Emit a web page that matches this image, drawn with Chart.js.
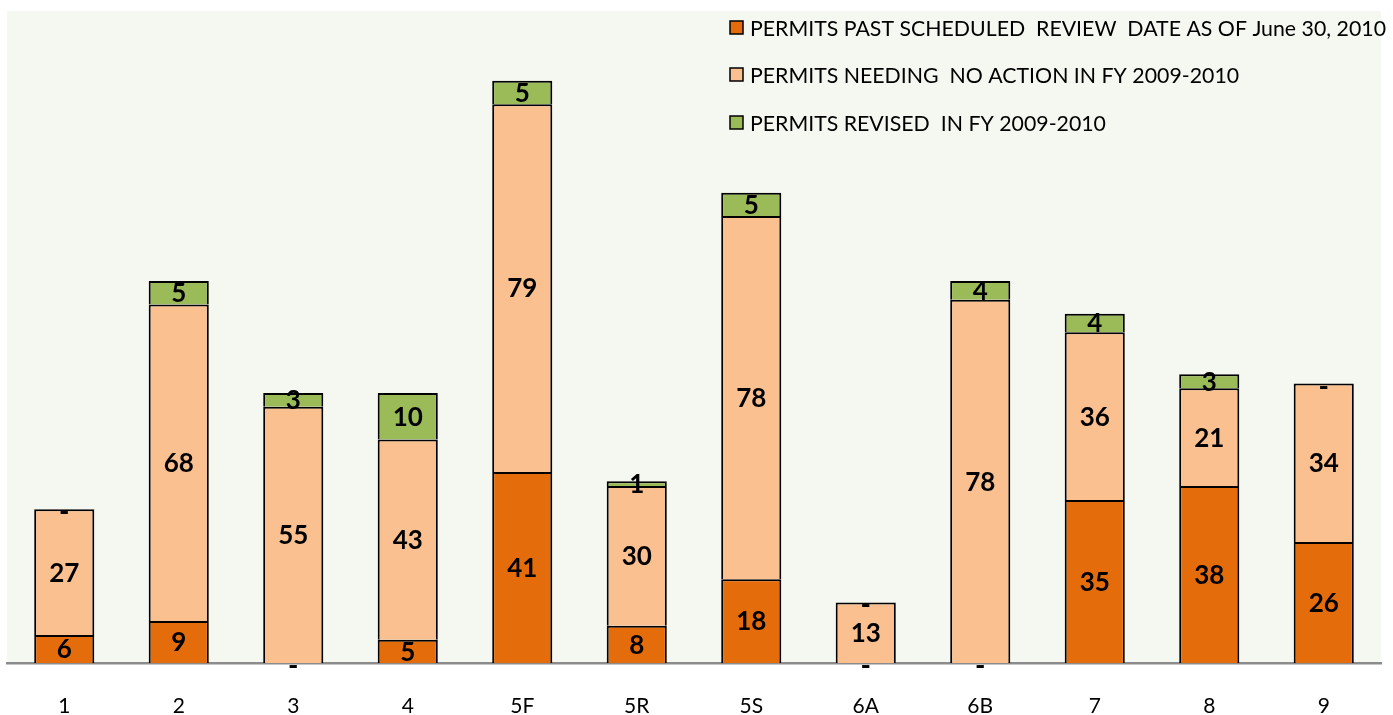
<!DOCTYPE html>
<html>
<head>
<meta charset="utf-8">
<script src="https://cdn.jsdelivr.net/npm/chart.js@4.4.1/dist/chart.umd.min.js"></script>
<style>
  html, body { margin: 0; padding: 0; background: #ffffff; }
  #wrap { width: 1393px; height: 715px; position: relative; }
</style>
</head>
<body>
<div id="wrap"><canvas id="c" width="1393" height="715"></canvas></div>
<script>
const categories = ['1', '2', '3', '4', '5F', '5R', '5S', '6A', '6B', '7', '8', '9'];
const pastReview = [6, 9, 0, 5, 41, 8, 18, 0, 0, 35, 38, 26];
const noAction   = [27, 68, 55, 43, 79, 30, 78, 13, 78, 36, 21, 34];
const revised    = [0, 5, 3, 10, 5, 1, 5, 0, 4, 4, 3, 0];
const seriesNames = [
  'PERMITS PAST SCHEDULED  REVIEW  DATE AS OF June 30, 2010',
  'PERMITS NEEDING  NO ACTION IN FY 2009-2010',
  'PERMITS REVISED  IN FY 2009-2010'
];
const FONT = 'Lato, "Open Sans", sans-serif';

const bgPlugin = {
  id: 'plotBg',
  beforeDraw(chart) {
    const { ctx, chartArea: a } = chart;
    ctx.save();
    ctx.fillStyle = '#F5F8F0';
    ctx.fillRect(a.left, a.top, a.right - a.left, a.bottom - a.top);
    ctx.restore();
  }
};

const labelPlugin = {
  id: 'segLabels',
  afterDatasetsDraw(chart) {
    const ctx = chart.ctx;
    ctx.save();
    ctx.fillStyle = '#000';
    ctx.textAlign = 'center';
    ctx.textBaseline = 'middle';
    chart.data.datasets.forEach((ds, di) => {
      const meta = chart.getDatasetMeta(di);
      meta.data.forEach((el, i) => {
        const v = ds.data[i];
        const y = (el.y + el.base) / 2;
        if (v === 0) {
          ctx.font = 'bold 28px ' + FONT;
          ctx.fillText('-', el.x, y + 3);
        } else {
          ctx.font = 'bold 26px ' + FONT;
          ctx.fillText(String(v), el.x, y + 1);
        }
      });
    });
    ctx.restore();
  }
};

const legendPlugin = {
  id: 'customLegend',
  afterDraw(chart) {
    const ctx = chart.ctx;
    ctx.save();
    const rows = [28, 75, 123];
    ctx.font = '22px ' + FONT;
    ctx.textBaseline = 'middle';
    ctx.textAlign = 'left';
    const w0 = ctx.measureText(chart.data.datasets[0].label).width;
    const sx = Math.min(1, 636 / w0);
    chart.data.datasets.forEach((ds, di) => {
      const y = rows[di];
      ctx.fillStyle = ds.backgroundColor;
      ctx.fillRect(730, y - 7, 13, 13);
      ctx.strokeStyle = '#000';
      ctx.lineWidth = 1.5;
      ctx.strokeRect(730, y - 7, 13, 13);
      ctx.fillStyle = '#000';
      ctx.save();
      ctx.translate(750, y + 1);
      ctx.scale(sx, 1);
      ctx.fillText(ds.label, 0, 0);
      ctx.restore();
    });
    ctx.restore();
  }
};

new Chart(document.getElementById('c'), {
  type: 'bar',
  data: {
    labels: categories,
    datasets: [
      { label: seriesNames[0], data: pastReview, backgroundColor: '#E46C0A' },
      { label: seriesNames[1], data: noAction,   backgroundColor: '#FAC090' },
      { label: seriesNames[2], data: revised,    backgroundColor: '#9BBB59' }
    ]
  },
  options: {
    responsive: false,
    animation: false,
    devicePixelRatio: 1,
    layout: { padding: { left: 7, right: 12, top: 11, bottom: 0 } },
    datasets: {
      bar: {
        borderColor: '#000',
        borderWidth: 2,
        borderSkipped: 'start',
        categoryPercentage: 1,
        barPercentage: 0.525
      }
    },
    plugins: {
      legend: { display: false },
      tooltip: { enabled: false }
    },
    scales: {
      x: {
        stacked: true,
        grid: { display: false, drawTicks: false },
        border: { display: true, color: '#8C8C8C', width: 2.5 },
        ticks: { color: '#000', font: { family: FONT, size: 21 }, padding: 31 },
        afterFit(scale) { scale.height = 52; }
      },
      y: {
        stacked: true,
        display: false,
        min: 0,
        max: 140
      }
    }
  },
  plugins: [bgPlugin, labelPlugin, legendPlugin]
});
</script>
</body>
</html>
